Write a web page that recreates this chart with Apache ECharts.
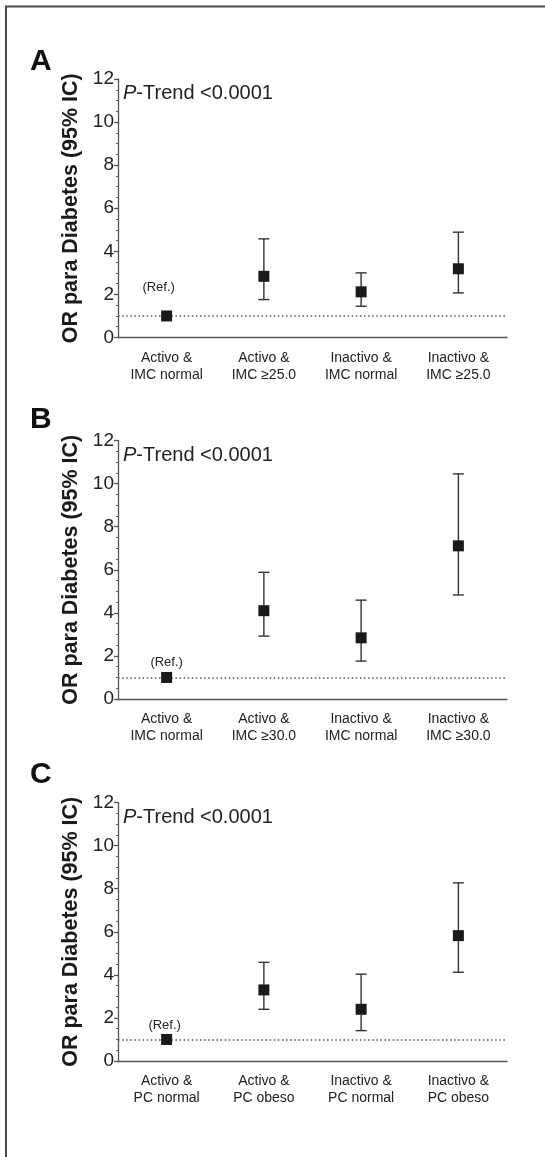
<!DOCTYPE html>
<html>
<head>
<meta charset="utf-8">
<script src="https://cdn.jsdelivr.net/npm/echarts@6/dist/echarts.min.js"></script>
<style>
html,body{margin:0;padding:0;background:#fff;}
#chart{width:545px;height:1157px;}
</style>
</head>
<body>
<div id="chart"></div>
<script>
// ---- data ----
const panelLetters = ['A', 'B', 'C'];
const pTrendValue = '<0.0001';
const refText = '(Ref.)';
const yAxisName = 'OR para Diabetes (95% IC)';

const categoriesA = ['Activo &\nIMC normal', 'Activo &\nIMC \u226525.0', 'Inactivo &\nIMC normal', 'Inactivo &\nIMC \u226525.0'];
const orA   = [1.00, 2.84, 2.12, 3.19];
const lowA  = [null, 1.76, 1.45, 2.07];
const highA = [null, 4.58, 3.00, 4.89];

const categoriesB = ['Activo &\nIMC normal', 'Activo &\nIMC \u226530.0', 'Inactivo &\nIMC normal', 'Inactivo &\nIMC \u226530.0'];
const orB   = [1.00, 4.10, 2.84, 7.11];
const lowB  = [null, 2.92, 1.76, 4.83];
const highB = [null, 5.88, 4.59, 10.45];

const categoriesC = ['Activo &\nPC normal', 'Activo &\nPC obeso', 'Inactivo &\nPC normal', 'Inactivo &\nPC obeso'];
const orC   = [1.00, 3.30, 2.40, 5.82];
const lowC  = [null, 2.40, 1.41, 4.12];
const highC = [null, 4.58, 4.03, 8.27];

const yMin = 0, yMax = 12, yInterval = 2;
const referenceValue = 1;

// ---- layout ----
const FONT = '"Liberation Sans", Arial, Helvetica, sans-serif';
const panels = [
  {cats: categoriesA, or: orA, low: lowA, high: highA, top: 79,    letterY: 63.5, refOffset: [-8, -29]},
  {cats: categoriesB, or: orB, low: lowB, high: highB, top: 440.5, letterY: 421.5, refOffset: [0, -15]},
  {cats: categoriesC, or: orC, low: lowC, high: highC, top: 802.5, letterY: 776.5, refOffset: [-2, -14.5]}
];
const gridLeft = 118, gridRight = 38, gridHeight = 258.5;

const chart = echarts.init(document.getElementById('chart'), null, {renderer: 'canvas'});

const grid = [], xAxis = [], yAxis = [], series = [], graphic = [];

graphic.push({
  type: 'rect', silent: true, z: -1,
  shape: {x: 6, y: 6.5, width: 700, height: 1300},
  style: {fill: 'none', stroke: '#4a4a4a', lineWidth: 2}
});

panels.forEach((p, i) => {
  grid.push({left: gridLeft, right: gridRight, top: p.top, height: gridHeight, containLabel: false});
  xAxis.push({
    type: 'category', gridIndex: i, data: p.cats, boundaryGap: true,
    axisLine: {lineStyle: {color: '#555', width: 1.3}},
    axisTick: {alignWithLabel: true, length: 4, lineStyle: {color: '#555', width: 1.3}},
    axisLabel: {color: '#222', fontSize: 14, fontFamily: FONT, lineHeight: 17, margin: 12, interval: 0}
  });
  yAxis.push({
    type: 'value', gridIndex: i, min: yMin, max: yMax, interval: yInterval,
    name: yAxisName, nameLocation: 'middle', nameGap: 31, nameRotate: 90,
    nameTextStyle: {color: '#1a1a1a', fontSize: 21.5, fontWeight: 'bold', fontFamily: FONT},
    axisLine: {show: true, lineStyle: {color: '#555', width: 1.3}},
    axisTick: {show: true, length: 4, lineStyle: {color: '#555', width: 1.3}},
    minorTick: {show: true, splitNumber: 4, length: 2, lineStyle: {color: '#666', width: 1}},
    splitLine: {show: false},
    axisLabel: {color: '#222', fontSize: 19, fontFamily: FONT, margin: 4}
  });

  const errData = [];
  p.or.forEach((v, k) => { if (p.low[k] != null) errData.push([k, p.low[k], p.high[k]]); });

  series.push({
    type: 'custom', xAxisIndex: i, yAxisIndex: i, z: 2, silent: true,
    data: errData,
    encode: {x: 0, y: [1, 2]},
    renderItem: function (params, api) {
      const x = api.value(0);
      const lo = api.coord([x, api.value(1)]);
      const hi = api.coord([x, api.value(2)]);
      const hw = 5.5;
      const st = {stroke: '#333', lineWidth: 1.4};
      return {type: 'group', children: [
        {type: 'line', shape: {x1: lo[0], y1: lo[1], x2: hi[0], y2: hi[1]}, style: st},
        {type: 'line', shape: {x1: lo[0] - hw, y1: lo[1], x2: lo[0] + hw, y2: lo[1]}, style: st},
        {type: 'line', shape: {x1: hi[0] - hw, y1: hi[1], x2: hi[0] + hw, y2: hi[1]}, style: st}
      ]};
    },
    markLine: {
      silent: true, symbol: ['none', 'none'], z: 1,
      lineStyle: {color: '#555', width: 1.5, type: [1.5, 2.6]},
      label: {show: false},
      data: [{yAxis: referenceValue}]
    }
  });

  series.push({
    type: 'scatter', xAxisIndex: i, yAxisIndex: i, z: 5, silent: true,
    symbol: 'rect', symbolSize: 11,
    itemStyle: {color: '#1a1a1a', opacity: 1},
    data: p.or.map((v, k) => k === 0 ? {
      value: v,
      label: {show: true, formatter: refText, position: 'inside', offset: p.refOffset,
              color: '#222', fontSize: 13, fontFamily: FONT}
    } : v)
  });

  graphic.push({
    type: 'text', left: 30, top: p.letterY - 17, silent: true,
    style: {text: panelLetters[i], fill: '#111', font: 'bold 30px ' + FONT}
  });
  graphic.push({
    type: 'text', left: 123, top: p.top + 15.5 - 11, silent: true,
    style: {
      text: '{i|P}-Trend ' + pTrendValue,
      fill: '#222', font: '20px ' + FONT,
      rich: {i: {fontStyle: 'italic', fontSize: 20, fontFamily: FONT, fill: '#222'}}
    }
  });
});

chart.setOption({
  animation: false,
  backgroundColor: '#fff',
  textStyle: {fontFamily: FONT},
  grid, xAxis, yAxis, series, graphic
});
</script>
</body>
</html>
